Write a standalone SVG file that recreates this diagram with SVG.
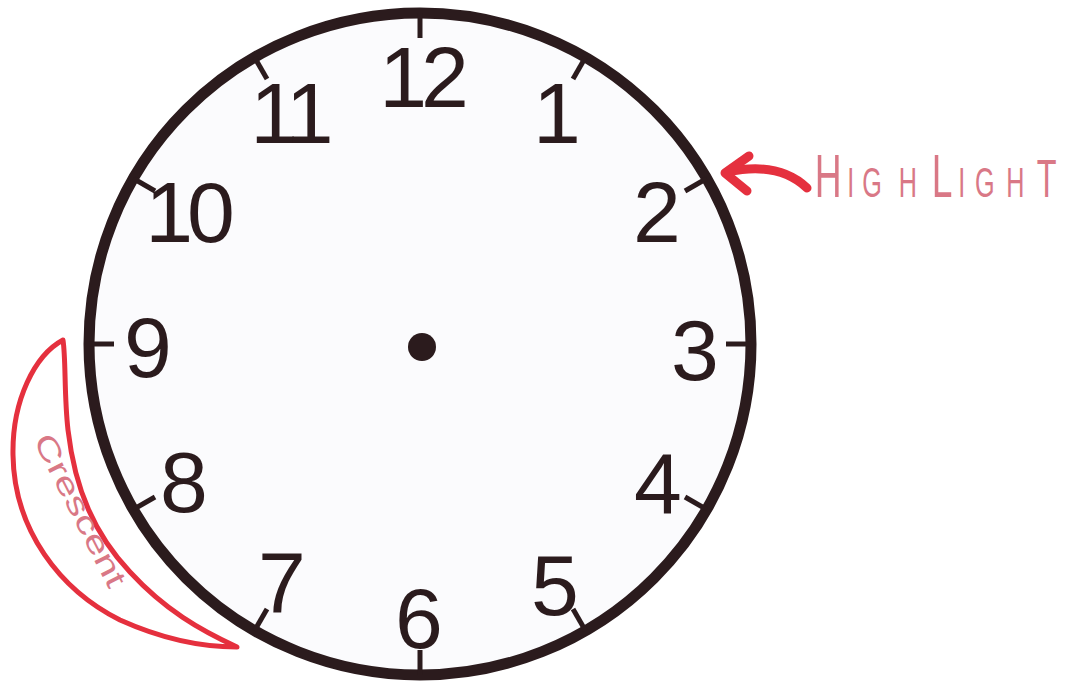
<svg xmlns="http://www.w3.org/2000/svg" width="1078" height="687" viewBox="0 0 1078 687">
<style>
.num{font-family:"Liberation Sans",Arial,sans-serif;font-size:86px;fill:#2b1b1d;text-anchor:middle}
.tick{stroke:#2b1b1d;stroke-width:5;stroke-linecap:butt}
.red{fill:none;stroke:#e5303e;stroke-linecap:round;stroke-linejoin:round}
.pink{font-family:"Liberation Sans",Arial,sans-serif;fill:#d97886}
</style>
<rect width="1078" height="687" fill="#ffffff"/>
<g id="clock">
  <circle cx="420" cy="344" r="331" fill="#fbfbfd" stroke="#2b1b1d" stroke-width="11"/>
  <g id="ticks">
    <line class="tick" x1="420" y1="13" x2="420" y2="38"/>
    <line class="tick" x1="585.5" y1="57.3" x2="573" y2="79"/>
    <line class="tick" x1="706.7" y1="178.5" x2="685" y2="191"/>
    <line class="tick" x1="751" y1="344" x2="726" y2="344"/>
    <line class="tick" x1="706.7" y1="509.5" x2="685" y2="497"/>
    <line class="tick" x1="585.5" y1="630.7" x2="573" y2="609"/>
    <line class="tick" x1="420" y1="675" x2="420" y2="650"/>
    <line class="tick" x1="254.5" y1="630.7" x2="267" y2="609"/>
    <line class="tick" x1="133.3" y1="509.5" x2="155" y2="497"/>
    <line class="tick" x1="89" y1="344" x2="114" y2="344"/>
    <line class="tick" x1="133.3" y1="178.5" x2="155" y2="191"/>
    <line class="tick" x1="254.5" y1="57.3" x2="267" y2="79"/>
  </g>
  <circle cx="422" cy="347" r="14" fill="#2b1b1d"/>
</g>
<g id="numbers">
  <text class="num" x="421" y="107" letter-spacing="-6">12</text>
  <text class="num" x="557" y="143">1</text>
  <text class="num" x="657" y="242">2</text>
  <text class="num" x="695" y="380">3</text>
  <text class="num" x="658" y="513">4</text>
  <text class="num" x="555" y="615">5</text>
  <text class="num" x="419" y="648">6</text>
  <text class="num" x="282" y="612">7</text>
  <text class="num" x="184" y="512">8</text>
  <text class="num" x="148" y="377">9</text>
  <text class="num" x="187" y="242" letter-spacing="-6">10</text>
  <text class="num" x="289" y="143" letter-spacing="-6">11</text>
</g>
<g id="highlight">
  <path class="red" stroke-width="9" d="M 807,188 C 790,172 765,164 728,172"/>
  <path class="red" stroke-width="9" d="M 749,156 L 725,173 L 747,191"/>
  <g transform="translate(0,197) scale(0.6,1)" class="pink">
    <text x="1358" y="0" font-size="62">H</text>
    <text x="1412" y="0" font-size="42">I</text>
    <text x="1437" y="0" font-size="42">G</text>
    <text x="1498" y="0" font-size="42">H</text>
    <text x="1553" y="0" font-size="62">L</text>
    <text x="1597" y="0" font-size="42">I</text>
    <text x="1625" y="0" font-size="42">G</text>
    <text x="1677" y="0" font-size="42">H</text>
    <text x="1728" y="0" font-size="54">T</text>
  </g>
</g>
<g id="crescent">
  <path class="red" stroke-width="5" stroke="#e8404f" d="M 63,340 C 35,355 12,400 13,455 C 14,530 60,590 120,620 C 160,638 200,647 237,647 C 200,630 165,610 130,572 C 95,535 75,490 68,430 C 64,395 66,360 63,340 Z"/>
  <text class="pink" font-size="30" x="0" y="0" textLength="168" lengthAdjust="spacingAndGlyphs" transform="translate(33,440) rotate(63)">Crescent</text>
</g>
</svg>
